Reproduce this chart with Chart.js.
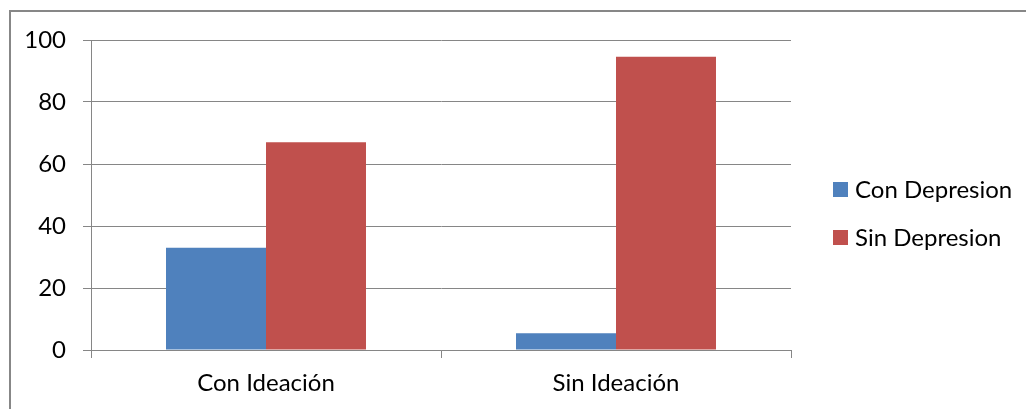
<!DOCTYPE html>
<html>
<head>
<meta charset="utf-8">
<script src="https://cdn.jsdelivr.net/npm/chart.js@4/dist/chart.umd.min.js"></script>
<style>
  html, body { margin: 0; padding: 0; background: #fff; }
  #wrap { width: 1026px; height: 409px; position: relative; }
</style>
</head>
<body>
<div id="wrap"><canvas id="c" width="1026" height="409"></canvas></div>
<script>
// Categories and series
const categories = ['Con Ideación', 'Sin Ideación'];
const conDepresion = [33, 5.4];
const sinDepresion = [67, 94.6];
const seriesNames = ['Con Depresion', 'Sin Depresion'];
const seriesColors = ['#4F81BD', '#C0504D'];
const yTicks = [0, 20, 40, 60, 80, 100];

const FONT = 'Lato, "Liberation Sans", sans-serif';
const GRID = '#868686';

// Frame around the chart and the legend on the right
const decorations = {
  id: 'decorations',
  afterDraw(chart) {
    const ctx = chart.ctx;
    ctx.save();
    ctx.strokeStyle = '#878787';
    ctx.lineWidth = 2;
    ctx.strokeRect(10, 11, 2000, 2000);

    ctx.font = '24px ' + FONT;
    ctx.textBaseline = 'middle';
    ctx.textAlign = 'left';
    chart.data.datasets.forEach((ds, i) => {
      const cy = 189 + i * 48;
      ctx.fillStyle = ds.backgroundColor;
      ctx.fillRect(833, cy - 7, 15, 15);
      ctx.fillStyle = '#000';
      ctx.fillText(ds.label, 855, cy + 1);
    });
    ctx.restore();
  }
};

new Chart(document.getElementById('c'), {
  type: 'bar',
  data: {
    labels: categories,
    datasets: [
      { label: seriesNames[0], data: conDepresion, backgroundColor: seriesColors[0] },
      { label: seriesNames[1], data: sinDepresion, backgroundColor: seriesColors[1] }
    ]
  },
  options: {
    responsive: false,
    animation: false,
    devicePixelRatio: 1,
    categoryPercentage: 0.5714,
    barPercentage: 1,
    layout: { padding: { left: 0, top: 40, right: 235, bottom: 0 } },
    plugins: {
      legend: { display: false },
      tooltip: { enabled: false }
    },
    scales: {
      x: {
        grid: {
          offset: true,
          drawOnChartArea: false,
          drawTicks: true,
          tickLength: 8,
          color: GRID,
          lineWidth: 1
        },
        border: { display: true, color: GRID, width: 1 },
        ticks: {
          color: '#000',
          font: { family: FONT, size: 24 },
          padding: 11
        },
        afterFit(scale) { scale.height = 59; }
      },
      y: {
        min: 0,
        max: 100,
        afterBuildTicks(scale) { scale.ticks = yTicks.map(v => ({ value: v })); },
        grid: {
          drawOnChartArea: true,
          drawTicks: true,
          tickLength: 8,
          color: GRID,
          lineWidth: 1
        },
        border: { display: true, color: GRID, width: 1 },
        ticks: {
          color: '#000',
          font: { family: FONT, size: 24 },
          padding: 17
        },
        afterFit(scale) { scale.width = 91; }
      }
    }
  },
  plugins: [decorations]
});
</script>
</body>
</html>
